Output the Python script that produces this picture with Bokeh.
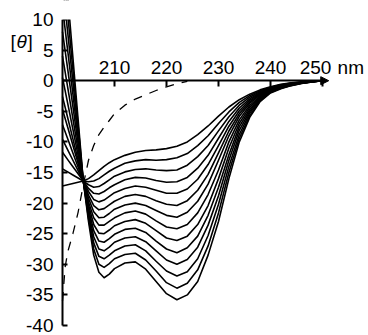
from bokeh.plotting import figure
from bokeh.models import LinearAxis, FixedTicker, Range1d, Label, Arrow, NormalHead, BoxAnnotation
from bokeh.embed import file_html
from bokeh.resources import INLINE

# wavelength grid (nm)
wl = [200, 201, 202, 203, 204, 205, 206, 207, 208, 209, 210, 212, 214, 216, 218,
      220, 222, 224, 226, 228, 230, 232, 234, 236, 238, 240, 242, 244, 246, 248, 250]

# solid spectra, from least to most negative at 222 nm
theta_01 = [-17.2, -17.0, -16.8, -16.6, -16.4, -16.0, -15.4, -14.7, -14.0, -13.4, -12.9, -12.2, -11.7, -11.4, -11.3, -11.1, -10.7, -10.0, -8.8, -7.4, -5.8, -4.3, -3.1, -2.2, -1.5, -1.0, -0.6, -0.35, -0.2, -0.08, 0]
theta_02 = [-14.4, -14.9, -15.4, -15.9, -16.4, -16.5, -16.4, -16.0, -15.4, -14.8, -14.3, -13.5, -13.1, -12.9, -13.0, -12.9, -12.6, -11.9, -10.6, -9.0, -7.0, -5.1, -3.55, -2.45, -1.64, -1.08, -0.65, -0.38, -0.22, -0.09, 0]
theta_03 = [-11.7, -12.9, -14.05, -15.2, -16.4, -17.0, -17.4, -17.3, -16.8, -16.2, -15.6, -14.9, -14.5, -14.4, -14.6, -14.7, -14.6, -13.8, -12.4, -10.6, -8.2, -5.9, -4.0, -2.7, -1.78, -1.15, -0.71, -0.42, -0.24, -0.1, 0]
theta_04 = [-9.6, -11.3, -13.0, -14.7, -16.4, -17.6, -18.4, -18.5, -18.1, -17.5, -17.0, -16.2, -15.8, -15.9, -16.3, -16.6, -16.5, -15.8, -14.3, -12.2, -9.4, -6.65, -4.46, -2.96, -1.92, -1.23, -0.76, -0.45, -0.26, -0.11, 0]
theta_05 = [-7.2, -9.5, -11.8, -14.1, -16.4, -18.1, -19.4, -19.8, -19.5, -18.9, -18.3, -17.6, -17.2, -17.4, -17.9, -18.4, -18.4, -17.7, -16.1, -13.7, -10.6, -7.44, -4.92, -3.22, -2.05, -1.31, -0.82, -0.49, -0.28, -0.12, 0]
theta_06 = [-4.7, -7.6, -10.55, -13.5, -16.4, -18.7, -20.4, -21.1, -20.9, -20.3, -19.7, -18.9, -18.6, -18.9, -19.6, -20.2, -20.4, -19.6, -17.9, -15.3, -11.8, -8.22, -5.37, -3.47, -2.19, -1.38, -0.87, -0.52, -0.3, -0.13, 0]
theta_07 = [-2.6, -6.05, -9.5, -12.95, -16.4, -19.2, -21.4, -22.4, -22.3, -21.7, -21.0, -20.3, -20.0, -20.4, -21.2, -22.0, -22.3, -21.5, -19.7, -16.9, -13.0, -9.0, -5.82, -3.72, -2.33, -1.46, -0.92, -0.56, -0.32, -0.14, 0]
theta_08 = [0.5, -3.7, -7.95, -12.2, -16.4, -19.8, -22.4, -23.6, -23.6, -23.0, -22.4, -21.6, -21.3, -21.8, -22.9, -23.9, -24.2, -23.5, -21.6, -18.6, -14.6, -10.0, -6.4, -4.05, -2.5, -1.54, -0.98, -0.59, -0.33, -0.14, 0]
theta_09 = [4, -1.1, -6.2, -11.3, -16.4, -20.3, -23.5, -24.9, -25.0, -24.4, -23.7, -23.0, -22.7, -23.3, -24.5, -25.7, -26.1, -25.4, -23.5, -20.4, -16.0, -11.0, -6.95, -4.35, -2.65, -1.62, -1.03, -0.63, -0.35, -0.15, 0]
theta_10 = [8, 1.9, -4.2, -10.3, -16.4, -20.9, -24.5, -26.2, -26.4, -25.8, -25.1, -24.3, -24.1, -24.8, -26.2, -27.5, -28.1, -27.3, -25.4, -22.0, -17.4, -12.1, -7.5, -4.7, -2.8, -1.69, -1.08, -0.66, -0.37, -0.16, 0]
theta_11 = [12, 4.9, -2.2, -9.3, -16.4, -21.4, -25.5, -27.5, -27.8, -27.2, -26.4, -25.7, -25.5, -26.3, -27.8, -29.3, -30.0, -29.2, -27.2, -23.6, -18.8, -13.0, -8.1, -5.0, -2.95, -1.77, -1.14, -0.70, -0.39, -0.17, 0]
theta_12 = [16, 7.9, -0.2, -8.3, -16.4, -21.9, -26.5, -28.7, -29.1, -28.5, -27.8, -27.0, -26.8, -27.8, -29.5, -31.1, -31.9, -31.2, -29.1, -25.3, -20.2, -14.0, -8.8, -5.3, -3.1, -1.85, -1.19, -0.73, -0.41, -0.18, 0]
theta_13 = [20, 10.9, 1.8, -7.3, -16.4, -22.5, -27.5, -30.0, -30.5, -29.9, -29.1, -28.4, -28.2, -29.3, -31.1, -33.0, -33.9, -33.1, -30.9, -27.0, -21.6, -15.0, -9.4, -5.7, -3.25, -1.92, -1.25, -0.77, -0.43, -0.19, 0]
theta_14 = [24, 13.9, 3.8, -6.3, -16.4, -23.0, -28.5, -31.3, -32.2, -31.6, -30.7, -29.8, -29.6, -30.8, -32.8, -34.8, -35.8, -35.0, -32.8, -28.5, -23.0, -16.0, -10.0, -6.0, -3.4, -2.0, -1.3, -0.8, -0.45, -0.2, 0]

# dashed (random-coil) spectrum
coil_wl = [200, 200.5, 201, 202, 203, 204, 205, 206, 207, 208, 209, 210, 212, 214, 216, 218, 220, 222, 224]
coil_theta = [-36, -30.5, -28, -25, -21.5, -17, -13, -10.6, -8.8, -7.6, -6.5, -5.4, -4.0, -3.0, -2.3, -1.6, -1.0, -0.5, -0.1]

x_ticks = [210, 220, 230, 240, 250]
x_tick_labels = ["210", "220", "230", "240", "250"]
y_ticks = [-40, -35, -30, -25, -20, -15, -10, -5, 0, 5, 10]
y_tick_labels = ["-40", "-35", "-30", "-25", "-20", "-15", "-10", "-5", "0", "5", "10"]
x_unit = "nm"
y_name = ["[", "θ", "]"]

spectra = [theta_01, theta_02, theta_03, theta_04, theta_05, theta_06, theta_07,
           theta_08, theta_09, theta_10, theta_11, theta_12, theta_13, theta_14]

FONT = "Liberation Sans"
FS = "19px"

# frame covers the whole canvas: 5.2 px per nm, 6.12 px per unit of [theta]
SX, SY = 5.2, 6.12
p = figure(width=368, height=335,
           x_range=Range1d(200 - 62 / SX, 200 + 306 / SX),
           y_range=Range1d(-40 - 10 / SY, 10 + 19 / SY),
           x_axis_type=None, y_axis_type=None,
           toolbar_location=None, output_backend="svg",
           min_border_left=0, min_border_right=0,
           min_border_top=0, min_border_bottom=0)
p.outline_line_color = None
p.background_fill_color = "white"
p.border_fill_color = "white"

for s in spectra:
    p.line(wl, s, line_color="black", line_width=1.6, line_join="round")

p.line(coil_wl, coil_theta, line_color="black", line_width=1.3, line_dash="9 8")

# the plotting area ends at the top of the y axis (10)
p.add_layout(BoxAnnotation(bottom=y_ticks[-1], top=20, left=199.6, right=205,
                           fill_color="white", fill_alpha=1.0, line_color=None))

def style(ax):
    ax.axis_line_color = "black"
    ax.axis_line_width = 2
    ax.major_tick_line_color = "black"
    ax.major_tick_line_width = 2
    ax.major_tick_out = 0
    ax.major_tick_in = 6
    ax.minor_tick_line_color = None
    ax.major_label_text_font = FONT
    ax.major_label_text_font_size = FS
    ax.major_label_text_color = "black"

yaxis = LinearAxis(fixed_location=200, bounds=(-40, 10),
                   ticker=FixedTicker(ticks=y_ticks),
                   major_label_overrides={t: l for t, l in zip(y_ticks, y_tick_labels)})
style(yaxis)
yaxis.major_tick_in = 5
yaxis.major_label_standoff = 9
p.add_layout(yaxis, "left")

# the 250 label sits left of its tick to leave room for the unit
x_over = {t: l for t, l in zip(x_ticks, x_tick_labels)}
x_over[x_ticks[-1]] = ""
xaxis = LinearAxis(fixed_location=0, bounds=(200, 250.6),
                   ticker=FixedTicker(ticks=x_ticks),
                   major_label_overrides=x_over)
style(xaxis)
xaxis.major_label_standoff = 7
p.add_layout(xaxis, "above")

mid_y = 2.1
p.add_layout(Label(x=x_ticks[-1] - 1.35, y=mid_y, text=x_tick_labels[-1], text_font=FONT,
                   text_font_size=FS, text_color="black", text_align="center",
                   text_baseline="middle"))
p.add_layout(Label(x=252.9, y=mid_y, text=x_unit, text_font=FONT, text_font_size=FS,
                   text_color="black", text_align="left", text_baseline="middle"))

p.add_layout(Arrow(end=NormalHead(size=8, fill_color="black", line_color="black", line_width=1),
                   x_start=250.0, y_start=0, x_end=251.2, y_end=0,
                   line_color="black", line_width=2))

for txt, xx, style_ in zip(y_name, [190.0, 191.15, 193.25], ["normal", "italic", "normal"]):
    p.add_layout(Label(x=xx, y=6.4, text=txt, text_font=FONT, text_font_size=FS,
                       text_font_style=style_, text_color="black",
                       text_align="left", text_baseline="middle"))

open("out.html", "w").write(file_html(p, INLINE))
